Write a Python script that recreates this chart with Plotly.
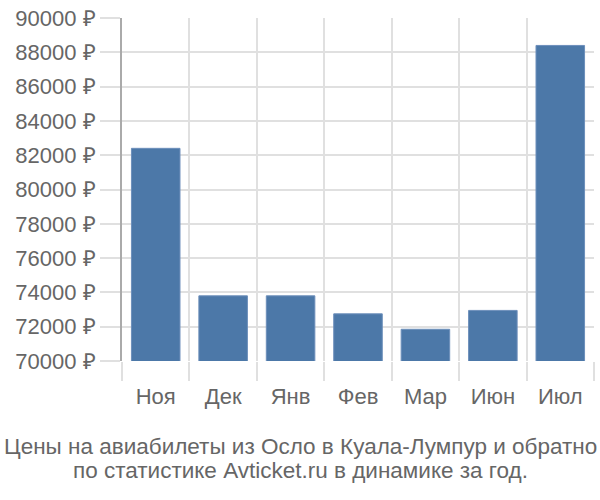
import plotly.graph_objects as go

categories = ["Ноя", "Дек", "Янв", "Фев", "Мар", "Июн", "Июл"]
prices = [82400, 73800, 73800, 72750, 71850, 72950, 88400]
tick_values = list(range(70000, 90001, 2000))
tick_labels = [f"{v} ₽" for v in tick_values]
title_lines = ["Цены на авиабилеты из Осло в Куала-Лумпур и обратно",
               "по статистике Avticket.ru в динамике за год."]

FONT = "Liberation Sans, Arial, sans-serif"
GRID = "#e0e0e0"

fig = go.Figure(go.Bar(
    x=categories, y=prices,
    marker=dict(color="#4c78a8", line=dict(color="#6d8fbb", width=1)),
    width=0.72,
))

L, R, T, B = 122, 6, 14, 139
plot_h = 500 - T - B
plot_bottom = 500 - B

title_centers = [447, 472]
annotations = []
for line, yc in zip(title_lines, title_centers):
    annotations.append(dict(
        text=line,
        xref="paper", yref="paper",
        x=(300 - L) / (600 - L - R), xanchor="center",
        y=-(yc - plot_bottom) / plot_h, yanchor="middle",
        showarrow=False,
        font=dict(family=FONT, size=22.5, color="#666666"),
    ))

fig.update_layout(
    width=600, height=500,
    margin=dict(l=L, r=R, t=T, b=B, pad=0),
    paper_bgcolor="white", plot_bgcolor="white",
    showlegend=False,
    font=dict(family=FONT, color="#666666"),
    xaxis=dict(
        type="category",
        tickson="boundaries",
        showgrid=True, gridcolor=GRID, gridwidth=2,
        ticks="outside", ticklen=19, tickcolor=GRID, tickwidth=2,
        ticklabelstandoff=20,
        tickfont=dict(size=22, color="#666666"),
        showline=False, zeroline=False,
    ),
    yaxis=dict(
        range=[70000, 90000],
        tickvals=tick_values, ticktext=tick_labels,
        showgrid=True, gridcolor=GRID, gridwidth=2,
        ticks="outside", ticklen=20, tickcolor=GRID, tickwidth=2,
        tickfont=dict(size=22, color="#666666"),
        showline=True, linecolor="#aaaaaa", linewidth=2,
        zeroline=False,
    ),
    annotations=annotations,
)

fig.write_html("out.html")
